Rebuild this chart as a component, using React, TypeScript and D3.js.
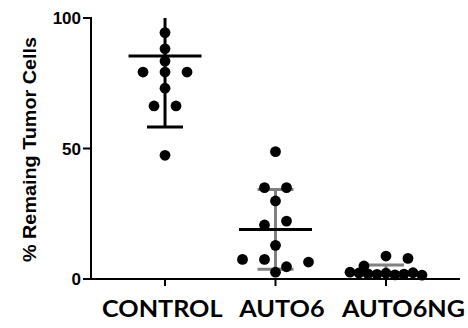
import * as d3 from "d3";

const categories = ["CONTROL", "AUTO6", "AUTO6NG"];
const controlValues = [94.4, 88.2, 83.5, 79.3, 79.3, 79.3, 73.1, 66.3, 66.3, 47.4];
const auto6Values = [48.8, 35.0, 35.0, 29.9, 20.7, 22.2, 12.9, 7.5, 7.5, 4.7, 6.5, 2.6];
const auto6ngValues = [5.0, 8.8, 7.9, 2.6, 2.3, 2.0, 1.8, 2.2, 1.6, 1.9, 2.4, 1.5];
const centers = [85.4, 19.0, 2.2];
const spreads = [27.2, 15.3, 3.2];
const yTicks = [0, 50, 100];

const groups = [controlValues, auto6Values, auto6ngValues];
const barColors = ["#000000", "#808080", "#808080"];

const width = 468;
const height = 328;
const left = 91;
const top = 18;
const bottom = 279;
const right = 460;
const dotR = 5.4;

// stack points with similar y into rows, spread symmetrically
function scatterOffsets(values: number[], y: (v: number) => number) {
  const order = values.map((v, i) => i).sort((a, b) => values[b] - values[a]);
  const offsets = new Array(values.length).fill(0);
  let row: number[] = [];
  let y0 = 0;
  const flush = () => {
    const sorted = row.slice().sort((a, b) => a - b);
    const n = sorted.length;
    const s = n > 1 ? Math.min(22, 72 / (n - 1)) : 0;
    sorted.forEach((idx, i) => {
      offsets[idx] = (i - (n - 1) / 2) * s;
    });
  };
  order.forEach((idx) => {
    const py = y(values[idx]);
    if (row.length && py - y0 < 10) {
      row.push(idx);
    } else {
      if (row.length) flush();
      row = [idx];
      y0 = py;
    }
  });
  if (row.length) flush();
  return offsets;
}

export default function App() {
  const x = d3.scalePoint<string>().domain(categories).range([left, right]).padding(0.67);
  const y = d3.scaleLinear().domain([0, 100]).range([bottom, top]);
  const clamp = (v: number) => Math.max(0, Math.min(100, v));

  return (
    <svg
      width={width}
      height={height}
      style={{ position: "absolute", left: 0, top: 0, background: "#fff" }}
      fontFamily="'Liberation Sans', Arial, sans-serif"
    >
      {/* error bars */}
      {categories.map((c, i) => {
        const cx = x(c)!;
        const hi = centers[i] + spreads[i];
        const lo = centers[i] - spreads[i];
        return (
          <g key={"err" + c} stroke={barColors[i]} strokeWidth={3}>
            <line x1={cx} x2={cx} y1={y(clamp(hi))} y2={y(clamp(lo))} />
            {hi <= 100 && <line x1={cx - 18} x2={cx + 18} y1={y(hi)} y2={y(hi)} />}
            {lo >= 0 && <line x1={cx - 18} x2={cx + 18} y1={y(lo)} y2={y(lo)} />}
          </g>
        );
      })}

      {/* dots */}
      {groups.map((vals, gi) => {
        const cx = x(categories[gi])!;
        const offs = scatterOffsets(vals, y);
        return (
          <g key={"dots" + gi} fill="#000">
            {vals.map((v, i) => (
              <circle key={i} cx={cx + offs[i]} cy={y(v)} r={dotR} />
            ))}
          </g>
        );
      })}

      {/* center lines */}
      {categories.map((c, i) => (
        <line
          key={"mean" + c}
          x1={x(c)! - 36.5}
          x2={x(c)! + 36.5}
          y1={y(centers[i])}
          y2={y(centers[i])}
          stroke="#000"
          strokeWidth={3}
        />
      ))}

      {/* y axis */}
      <line x1={left} x2={left} y1={top - 1} y2={bottom + 1} stroke="#000" strokeWidth={2} />
      {yTicks.map((t) => (
        <g key={"yt" + t}>
          <line x1={left - 8} x2={left} y1={y(t)} y2={y(t)} stroke="#000" strokeWidth={2} />
          <text
            x={left - 10}
            y={y(t)}
            dy="0.36em"
            textAnchor="end"
            fontSize={17}
            fontWeight="bold"
          >
            {t}
          </text>
        </g>
      ))}
      <text
        transform={`translate(36, ${(37 + 262) / 2}) rotate(-90)`}
        textAnchor="middle"
        fontSize={18.5}
        fontWeight="bold"
        textLength={225}
        lengthAdjust="spacingAndGlyphs"
      >
        % Remaing Tumor Cells
      </text>

      {/* x axis */}
      <line x1={left} x2={right} y1={bottom} y2={bottom} stroke="#000" strokeWidth={2} />
      {categories.map((c) => (
        <line key={"xt" + c} x1={x(c)} x2={x(c)} y1={bottom} y2={bottom + 7} stroke="#000" strokeWidth={2} />
      ))}
      <text
        x={x(categories[0])! - 63}
        y={317}
        fontFamily="Lato, 'Open Sans', sans-serif"
        fontWeight="bold"
        fontSize={22.5}
        textLength={363}
        lengthAdjust="spacingAndGlyphs"
        style={{ whiteSpace: "pre" }}
      >
        {categories.join("   ")}
      </text>
    </svg>
  );
}
